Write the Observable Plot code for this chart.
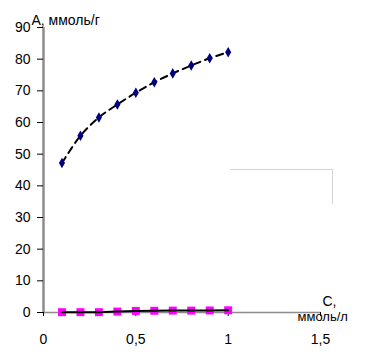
<!DOCTYPE html>
<html>
<head>
<meta charset="utf-8">
<script src="https://cdn.jsdelivr.net/npm/d3@7"></script>
<script src="https://cdn.jsdelivr.net/npm/@observablehq/plot@0.6"></script>
<style>
  html, body { margin: 0; padding: 0; background: #fff; }
  #chart { position: relative; width: 372px; height: 359px; font-family: "Liberation Sans", Arial, sans-serif; }
  #stray { position: absolute; left: 230px; top: 169px; width: 102px; height: 34px;
           border-top: 1px solid #d4d4d4; border-right: 1px solid #d4d4d4; }
</style>
</head>
<body>
<div id="chart"><div id="stray"></div></div>
<script>
const concentration = [0.1, 0.2, 0.3, 0.4, 0.5, 0.6, 0.7, 0.8, 0.9, 1.0];
const adsorptionA = [47.2, 55.8, 61.6, 65.7, 69.4, 72.7, 75.5, 78.0, 80.3, 82.2];
const adsorptionB = [0.1, 0.1, 0.1, 0.3, 0.5, 0.55, 0.6, 0.6, 0.65, 0.7];
const yTicks = [0, 10, 20, 30, 40, 50, 60, 70, 80, 90];
const xTicks = [0, 0.5, 1, 1.5];
const yTitle = "А, ммоль/г";
const xTitle1 = "С,";
const xTitle2 = "ммоль/л";

const seriesA = concentration.map((c, i) => ({c, a: adsorptionA[i]}));
const seriesB = concentration.map((c, i) => ({c, a: adsorptionB[i]}));

const plot = Plot.plot({
  width: 372,
  height: 359,
  marginLeft: 43,
  marginRight: 52,
  marginTop: 27,
  marginBottom: 47,
  style: {fontFamily: "Liberation Sans, Arial, sans-serif", fontSize: "14px", color: "#000", background: "transparent"},
  x: {domain: [0, 1.5]},
  y: {domain: [0, 90]},
  marks: [
    Plot.ruleY([0], {stroke: "#8c8c8c", strokeWidth: 1.5}),
    Plot.ruleX([0], {stroke: "#8c8c8c", strokeWidth: 2.5, y1: 0, y2: 90}),
    Plot.axisY({ticks: yTicks, tickSize: 6, tickPadding: 7, label: null, stroke: "#000", fontSize: 14}),
    Plot.axisX({ticks: xTicks, tickSize: 4, tickPadding: 18, label: null, stroke: "#000", fontSize: 14,
      tickFormat: d => String(d).replace(".", ",")}),
    Plot.line(seriesA, {x: "c", y: "a", stroke: "#000", strokeWidth: 2, strokeDasharray: "7,5", curve: "catmull-rom"}),
    Plot.dot(seriesA, {x: "c", y: "a", symbol: "diamond", fill: "#000080", stroke: "#000080", r: 2.3}),
    Plot.dot(seriesB, {x: "c", y: "a", symbol: "square", fill: "#ff00ff", stroke: "none", r: 4.5}),
    Plot.line(seriesB, {x: "c", y: "a", stroke: "#000", strokeWidth: 2}),
    Plot.text([yTitle], {frameAnchor: "top-left", textAnchor: "start", lineAnchor: "bottom", dx: -12, dy: -3, fontSize: 14, fill: "#000"}),
    Plot.text([xTitle1], {frameAnchor: "bottom-right", textAnchor: "start", lineAnchor: "bottom", dx: 2, dy: -7, fontSize: 14, fill: "#000"}),
    Plot.text([xTitle2], {frameAnchor: "bottom-right", textAnchor: "start", lineAnchor: "bottom", dx: -23, dy: 8, fontSize: 13, fill: "#000"})
  ]
});
document.getElementById("chart").appendChild(plot);
</script>
</body>
</html>
